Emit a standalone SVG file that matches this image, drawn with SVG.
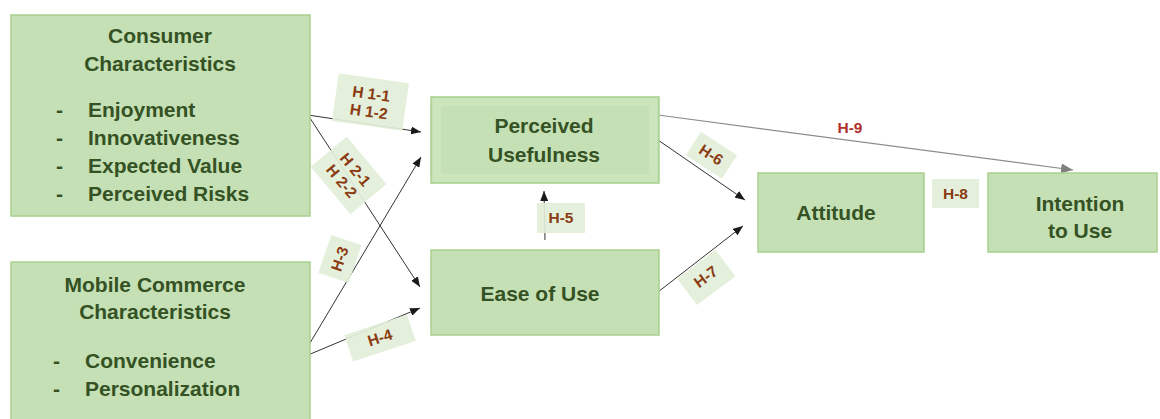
<svg xmlns="http://www.w3.org/2000/svg" width="1160" height="419" viewBox="0 0 1160 419">
<defs>
<style>
.box{fill:#c5e0b4;stroke:#a9d18e;stroke-width:1.5}
.t{font-family:"Liberation Sans",Arial,sans-serif;font-weight:bold;font-size:21px;fill:#345224}
.c{text-anchor:middle}
.lb{fill:#e2efd9;opacity:0.92}
.lt{font-family:"Liberation Sans",Arial,sans-serif;font-weight:bold;font-size:15.5px;fill:#8a3b12;text-anchor:middle}
.ln{stroke:#333;stroke-width:1;fill:none}
</style>
<marker id="ah" viewBox="0 0 10 8" refX="10" refY="4" markerWidth="10" markerHeight="8" markerUnits="userSpaceOnUse" orient="auto"><path d="M0,0 L10,4 L0,8 z" fill="#1a1a1a"/></marker>
<marker id="ahg" viewBox="0 0 12 10" refX="12" refY="5" markerWidth="12" markerHeight="10" markerUnits="userSpaceOnUse" orient="auto"><path d="M0,0 L12,5 L0,10 z" fill="#7f7f7f"/></marker>
</defs>
<rect width="1160" height="419" fill="#fff"/>

<g id="connectors">
<line class="ln" x1="308" y1="115" x2="421" y2="132" marker-end="url(#ah)"/>
<line class="ln" x1="308" y1="115" x2="420" y2="287" marker-end="url(#ah)"/>
<line class="ln" x1="310" y1="343" x2="421" y2="157" marker-end="url(#ah)"/>
<line class="ln" x1="308" y1="355" x2="420" y2="308" marker-end="url(#ah)"/>
<line class="ln" x1="545" y1="240" x2="544" y2="191" marker-end="url(#ah)"/>
<line class="ln" x1="658" y1="140" x2="745" y2="200" marker-end="url(#ah)"/>
<line class="ln" x1="658" y1="292" x2="743" y2="226" marker-end="url(#ah)"/>
<line x1="658" y1="115" x2="1073" y2="170" stroke="#8c8c8c" stroke-width="1.2" marker-end="url(#ahg)"/>
</g>

<g id="consumer">
<rect class="box" x="11" y="15" width="299" height="201"/>
<text class="t c" x="160" y="43">Consumer</text>
<text class="t c" x="160" y="71">Characteristics</text>
<text class="t" x="56" y="117">-</text><text class="t" x="88" y="117">Enjoyment</text>
<text class="t" x="56" y="145">-</text><text class="t" x="88" y="145">Innovativeness</text>
<text class="t" x="56" y="173">-</text><text class="t" x="88" y="173">Expected Value</text>
<text class="t" x="56" y="201">-</text><text class="t" x="88" y="201">Perceived Risks</text>
</g>

<g id="mobile">
<rect class="box" x="11" y="262" width="299" height="165"/>
<text class="t c" x="155" y="292">Mobile Commerce</text>
<text class="t c" x="155" y="319">Characteristics</text>
<text class="t" x="53" y="368">-</text><text class="t" x="85" y="368">Convenience</text>
<text class="t" x="53" y="396">-</text><text class="t" x="85" y="396">Personalization</text>
</g>

<g id="usefulness">
<rect class="box" x="431" y="97" width="228" height="86" stroke="#a6d48a" stroke-width="2"/>
<rect x="437" y="102" width="216" height="76" fill="none" stroke="#cde5bd" stroke-width="8"/>
<text class="t c" x="544" y="133">Perceived</text>
<text class="t c" x="544" y="162">Usefulness</text>
</g>

<g id="ease">
<rect class="box" x="431" y="250" width="228" height="85"/>
<text class="t c" x="540" y="301">Ease of Use</text>
</g>

<g id="attitude">
<rect class="box" x="758" y="173" width="166" height="79"/>
<text class="t c" x="836" y="220">Attitude</text>
</g>

<g id="intention">
<rect class="box" x="988" y="173" width="169" height="79"/>
<text class="t c" x="1080" y="211">Intention</text>
<text class="t c" x="1080" y="238">to Use</text>
</g>

<g id="labels">
<g transform="translate(370,102) rotate(8)"><rect class="lb" x="-35" y="-24" width="71" height="48"/><text class="lt" x="0" y="-3">H 1-1</text><text class="lt" x="0" y="15">H 1-2</text></g>
<g transform="translate(349,175) rotate(50)"><rect class="lb" x="-31" y="-23" width="62" height="47"/><text class="lt" x="0" y="-3">H 2-1</text><text class="lt" x="0" y="15">H 2-2</text></g>
<g transform="translate(340,259) rotate(-71)"><rect class="lb" x="-20" y="-16" width="40" height="32"/><text class="lt" x="0" y="5">H-3</text></g>
<g transform="translate(380,338) rotate(-18)"><rect class="lb" x="-33" y="-14" width="66" height="28"/><text class="lt" x="0" y="5">H-4</text></g>
<g><rect class="lb" x="537" y="203" width="48" height="30"/><text class="lt" x="561" y="223">H-5</text></g>
<g transform="translate(711,155) rotate(33)"><rect class="lb" x="-21" y="-14" width="43" height="28"/><text class="lt" x="0" y="5">H-6</text></g>
<g transform="translate(706,277) rotate(-37)"><rect class="lb" x="-24" y="-16" width="48" height="33"/><text class="lt" x="0" y="5">H-7</text></g>
<g><rect class="lb" x="932" y="179" width="47" height="29"/><text class="lt" x="955.5" y="199">H-8</text></g>
<text class="lt" x="850" y="133" style="fill:#b0302c">H-9</text>
</g>
</svg>
